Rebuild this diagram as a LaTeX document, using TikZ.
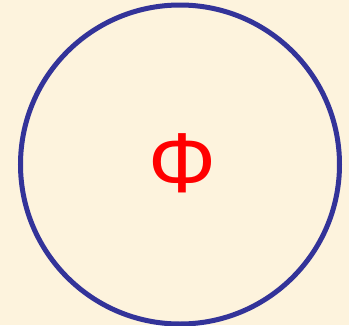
\documentclass[tikz,border=0pt]{standalone}
\usepackage{fontspec}
\setmainfont{Liberation Sans}
\definecolor{bgcream}{RGB}{253,243,221}
\definecolor{ringblue}{RGB}{51,51,153}
\definecolor{phired}{RGB}{255,0,0}
\begin{document}
\begin{tikzpicture}[x=1pt,y=-1pt,
  ring/.style={draw=ringblue,line width=5pt,circle,minimum size=319pt,inner sep=0pt},
  philabel/.style={text=phired,font=\fontsize{85}{85}\selectfont,inner sep=0pt}]
\fill[bgcream] (0,0) rectangle (349,325);
\useasboundingbox (0,0) rectangle (349,325);
\node[ring] (set) at (180,164.5) {};
\node[philabel] (phi) at (182,163.5) {Φ};
\end{tikzpicture}
\end{document}
